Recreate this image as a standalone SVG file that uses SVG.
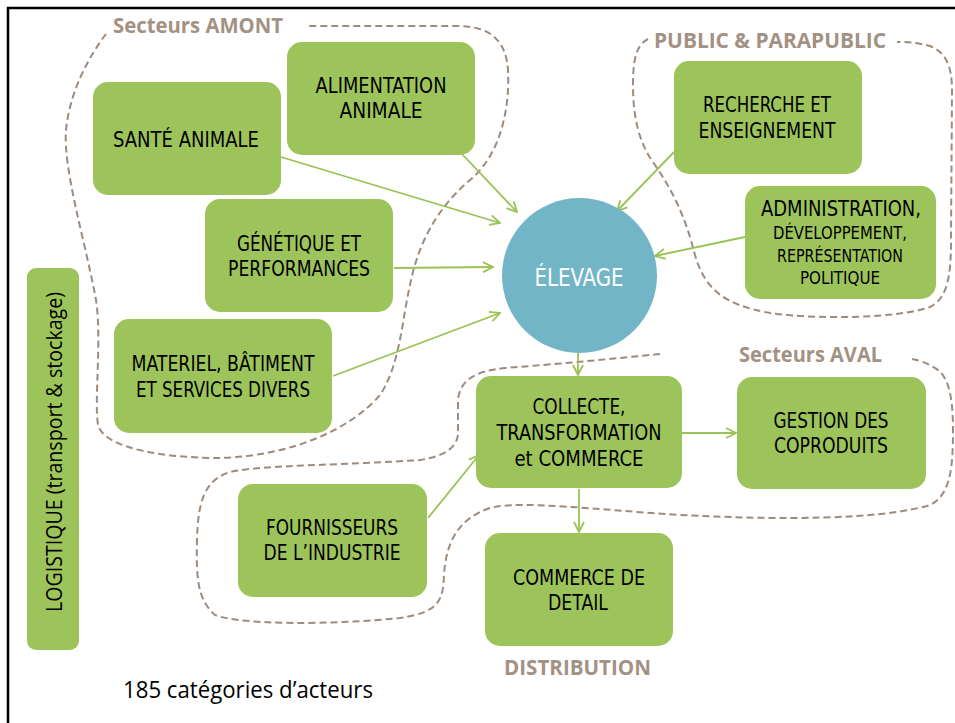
<svg xmlns="http://www.w3.org/2000/svg" width="955" height="723" viewBox="0 0 955 723">
<style>
.box{fill:#9DC45A;}
.t{font-family:"Liberation Sans Narrow","DejaVu Sans Condensed","Liberation Sans",sans-serif;font-size:21px;fill:#000;text-anchor:middle;lengthAdjust:spacingAndGlyphs;}
.ts{font-size:18px;}
.grp{font-family:"Open Sans","Noto Sans","Liberation Sans",sans-serif;font-weight:bold;font-size:21px;fill:#A39183;}
.dash{fill:none;stroke:#9E8B7D;stroke-width:2;stroke-dasharray:7 4;}
.con{fill:none;stroke:#9BC255;stroke-width:1.8;marker-end:url(#ah);}
</style>
<defs>
<marker id="ah" viewBox="0 0 12 12" refX="11" refY="6" markerWidth="12" markerHeight="12" markerUnits="userSpaceOnUse" orient="auto">
<path d="M1,1 L11,6 L1,11" fill="none" stroke="#9BC255" stroke-width="1.8"/>
</marker>
</defs>
<rect width="955" height="723" fill="#fff"/>
<g id="frame" stroke="#000" stroke-width="2.5">
<line x1="7" y1="8" x2="955" y2="8"/>
<line x1="8" y1="7" x2="8" y2="723"/>
</g>
<g id="groups">
<path class="dash" d="M106,34 C90,55 70,90 66,130 C63,170 85,240 96,300 C102,340 94,400 98,425 C105,450 170,458 220,458 C290,456 350,430 380,395 C400,365 402,320 410,285 C418,245 435,210 470,180 C500,155 510,110 508,70 C506,40 490,27 460,26 L307,26"/>
<path class="dash" d="M648,39 C636,45 633,60 633,85 C633,120 640,145 655,165 C672,190 685,215 695,255 C705,290 725,305 770,313 C820,320 900,318 930,307 C948,298 951,275 951,240 L952,90 C952,65 945,52 930,46 C915,42 905,42 897,42"/>
<path class="dash" d="M660,354 C620,358 560,364 505,368 C475,371 460,380 458,400 L458,435 C456,448 445,456 420,460 C350,465 260,465 230,472 C205,480 198,500 197,540 C196,580 198,600 215,615 C240,625 330,625 400,618 C440,612 443,600 444,575 C446,540 460,518 490,508 C520,500 600,510 680,515 C780,520 880,520 930,505 C950,495 953,470 953,430 C953,395 948,375 935,368 C925,362 918,360 912,359"/>
<text class="grp" x="113" y="33" textLength="170" lengthAdjust="spacingAndGlyphs">Secteurs AMONT</text>
<text class="grp" x="654" y="48" textLength="232" lengthAdjust="spacingAndGlyphs">PUBLIC &amp; PARAPUBLIC</text>
<text class="grp" x="739" y="362" textLength="143" lengthAdjust="spacingAndGlyphs">Secteurs AVAL</text>
<text class="grp" x="504" y="675" textLength="147" lengthAdjust="spacingAndGlyphs">DISTRIBUTION</text>
</g>
<g id="connectors">
<path class="con" d="M281,157 L500,223"/>
<path class="con" d="M462,154 L517,212"/>
<path class="con" d="M394,268 L493,267"/>
<path class="con" d="M333,376 L500,313"/>
<path class="con" d="M674,152 L617,211"/>
<path class="con" d="M745,237 L655,256"/>
<path class="con" d="M578,353 L578,375"/>
<path class="con" d="M682,433 L736,433"/>
<path class="con" d="M579,489 L579,532"/>
<path class="con" d="M428,518 L479,455"/>
</g>
<g id="elevage">
<circle cx="579.5" cy="275.5" r="77.5" fill="#72B5C7"/>
<text class="t" x="579" y="286" font-size="25" fill="#fff" style="fill:#fff;font-size:25px" textLength="89" lengthAdjust="spacingAndGlyphs">ÉLEVAGE</text>
</g>
<g id="sante">
<rect class="box" x="93" y="82" width="188" height="113" rx="15"/>
<text class="t" x="186" y="147" textLength="146" lengthAdjust="spacingAndGlyphs">SANTÉ ANIMALE</text>
</g>
<g id="alimentation">
<rect class="box" x="287" y="42" width="188" height="113" rx="15"/>
<text class="t" x="381" y="93" textLength="131" lengthAdjust="spacingAndGlyphs">ALIMENTATION</text>
<text class="t" x="381" y="118" textLength="83" lengthAdjust="spacingAndGlyphs">ANIMALE</text>
</g>
<g id="genetique">
<rect class="box" x="205" y="199" width="188" height="113" rx="15"/>
<text class="t" x="299" y="251" textLength="124" lengthAdjust="spacingAndGlyphs">GÉNÉTIQUE ET</text>
<text class="t" x="299" y="276" textLength="142" lengthAdjust="spacingAndGlyphs">PERFORMANCES</text>
</g>
<g id="materiel">
<rect class="box" x="114" y="319" width="218" height="114" rx="15"/>
<text class="t" x="223" y="371" textLength="183" lengthAdjust="spacingAndGlyphs">MATERIEL, BÂTIMENT</text>
<text class="t" x="223" y="397" textLength="174" lengthAdjust="spacingAndGlyphs">ET SERVICES DIVERS</text>
</g>
<g id="logistique">
<rect class="box" x="27" y="268" width="52" height="382" rx="9"/>
<text transform="translate(62,612) rotate(-90)" x="0" y="0" font-family="Open Sans, Noto Sans, Liberation Sans, sans-serif" font-size="22" fill="#000" textLength="320" lengthAdjust="spacingAndGlyphs">LOGISTIQUE (transport &amp; stockage)</text>
</g>
<g id="fournisseurs">
<rect class="box" x="238" y="484" width="189" height="113" rx="15"/>
<text class="t" x="332" y="535" textLength="132" lengthAdjust="spacingAndGlyphs">FOURNISSEURS</text>
<text class="t" x="332" y="560" textLength="137" lengthAdjust="spacingAndGlyphs">DE L’INDUSTRIE</text>
</g>
<g id="recherche">
<rect class="box" x="674" y="61" width="188" height="113" rx="15"/>
<text class="t" x="767" y="112" textLength="128" lengthAdjust="spacingAndGlyphs">RECHERCHE ET</text>
<text class="t" x="767" y="138" textLength="137" lengthAdjust="spacingAndGlyphs">ENSEIGNEMENT</text>
</g>
<g id="administration">
<rect class="box" x="745" y="186" width="191" height="113" rx="15"/>
<text class="t" x="841" y="216" textLength="160" lengthAdjust="spacingAndGlyphs">ADMINISTRATION,</text>
<text class="t ts" x="840" y="239" textLength="134" lengthAdjust="spacingAndGlyphs">DÉVELOPPEMENT,</text>
<text class="t ts" x="840" y="262" textLength="126" lengthAdjust="spacingAndGlyphs">REPRÉSENTATION</text>
<text class="t ts" x="840" y="284" textLength="80" lengthAdjust="spacingAndGlyphs">POLITIQUE</text>
</g>
<g id="collecte">
<rect class="box" x="476" y="376" width="206" height="112" rx="15"/>
<text class="t" x="579" y="414" textLength="93" lengthAdjust="spacingAndGlyphs">COLLECTE,</text>
<text class="t" x="579" y="440" textLength="165" lengthAdjust="spacingAndGlyphs">TRANSFORMATION</text>
<text class="t" x="579" y="466" textLength="129" lengthAdjust="spacingAndGlyphs">et COMMERCE</text>
</g>
<g id="gestion">
<rect class="box" x="737" y="377" width="189" height="112" rx="15"/>
<text class="t" x="831" y="428" textLength="115" lengthAdjust="spacingAndGlyphs">GESTION DES</text>
<text class="t" x="831" y="453" textLength="114" lengthAdjust="spacingAndGlyphs">COPRODUITS</text>
</g>
<g id="detail">
<rect class="box" x="485" y="533" width="188" height="113" rx="15"/>
<text class="t" x="579" y="585" textLength="132" lengthAdjust="spacingAndGlyphs">COMMERCE DE</text>
<text class="t" x="578" y="610" textLength="60" lengthAdjust="spacingAndGlyphs">DETAIL</text>
</g>
<text id="caption" x="123" y="698" font-family="Open Sans, Noto Sans, Liberation Sans, sans-serif" font-size="23" fill="#000" textLength="250" lengthAdjust="spacingAndGlyphs">185 catégories d’acteurs</text>
</svg>
